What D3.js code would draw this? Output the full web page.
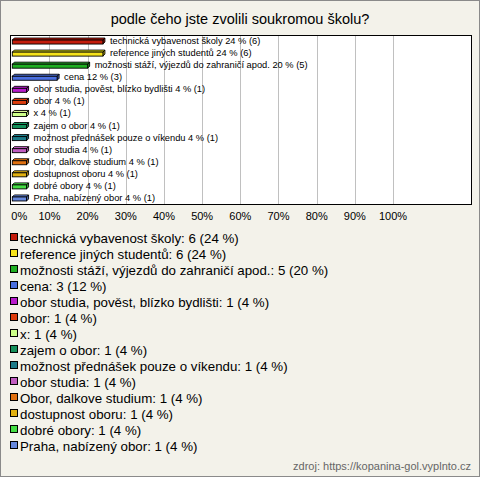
<!DOCTYPE html>
<html><head><meta charset="utf-8">
<script src="https://cdn.jsdelivr.net/npm/d3@7"></script>
<style>body{margin:0;background:#fff}svg{display:block}</style>
</head><body>
<script>
const title = "podle čeho jste zvolili soukromou školu?";
const categories = ["technická vybavenost školy","reference jiných studentů","možnosti stáží, výjezdů do zahraničí apod.","cena","obor studia, pověst, blízko bydlišti","obor","x","zajem o obor","možnost přednášek pouze o víkendu","obor studia","Obor, dalkove studium","dostupnost oboru","dobré obory","Praha, nabízený obor"];
const counts = [6,6,5,3,1,1,1,1,1,1,1,1,1,1];
const percents = [24,24,20,12,4,4,4,4,4,4,4,4,4,4];
const colors = ["#c41c0c","#f5e21a","#1fae22","#4a6fe0","#b81ccc","#dd3c0c","#ccff88","#14905a","#1c7a88","#c05cc0","#e07010","#e0b010","#44dd44","#6688dd"];
const tickValues = [0,10,20,30,40,50,60,70,80,90,100];
const source = "zdroj: https://kopanina-gol.vyplnto.cz";

const W=480,H=477;
const svg=d3.select("body").append("svg").attr("width",W).attr("height",H);
svg.append("rect").attr("x",0.5).attr("y",0.5).attr("width",W-1).attr("height",H-1).attr("fill","#f3f2ea").attr("stroke","#8a8a8a");

svg.append("text").attr("x",240).attr("y",24).attr("text-anchor","middle")
  .attr("font-family","Liberation Sans, Arial, sans-serif").attr("font-size",14.5).attr("fill","#000").text(title);

const plot={l:10,t:35,r:471,b:204};
const x=d3.scaleLinear().domain([0,100]).range([11.3,393]);
const y=d3.scaleBand().domain(d3.range(categories.length)).range([plot.t,plot.b]);

svg.append("rect").attr("x",plot.l+0.5).attr("y",plot.t+0.5).attr("width",plot.r-plot.l).attr("height",plot.b-plot.t).attr("fill","#fff");
svg.append("g").selectAll("line").data(tickValues.slice(1)).join("line")
  .attr("x1",d=>Math.round(x(d))+0.5).attr("x2",d=>Math.round(x(d))+0.5)
  .attr("y1",plot.t).attr("y2",plot.b).attr("stroke","#c0c0c0");

const g=svg.append("g");
const bh=4, dz=2;
categories.forEach((c,i)=>{
  const cy=y(i)+y.bandwidth()/2;
  const x0=x(0)+1, x1=x(percents[i]);
  const top=cy-bh/2+1;
  const col=d3.color(colors[i]);
  g.append("path").attr("d",`M${x0},${top} L${x0+dz},${top-dz} L${x1+dz},${top-dz} L${x1},${top} Z`)
    .attr("fill",col.brighter(0.3)).attr("stroke","#000").attr("stroke-width",0.9);
  g.append("path").attr("d",`M${x1},${top} L${x1+dz},${top-dz} L${x1+dz},${top+bh-dz} L${x1},${top+bh} Z`)
    .attr("fill",col.darker(0.6)).attr("stroke","#000").attr("stroke-width",0.9);
  g.append("rect").attr("x",x0).attr("y",top).attr("width",x1-x0).attr("height",bh)
    .attr("fill",colors[i]).attr("stroke","#000").attr("stroke-width",0.9);
  g.append("text").attr("x",x1+7).attr("y",cy+3).attr("font-family","Liberation Sans, Arial, sans-serif")
    .attr("font-size",9.3).attr("fill","#000").text(`${c} ${percents[i]} % (${counts[i]})`);
});

svg.append("rect").attr("x",plot.l+0.5).attr("y",plot.t+0.5).attr("width",plot.r-plot.l).attr("height",plot.b-plot.t).attr("fill","none").attr("stroke","#000");

svg.append("g").selectAll("text").data(tickValues).join("text")
  .attr("x",d=>x(d)).attr("y",220)
  .attr("text-anchor",d=>d===0?"start":"middle")
  .attr("font-family","Liberation Sans, Arial, sans-serif").attr("font-size",11).attr("fill","#000")
  .text(d=>d+"%");

const lg=svg.append("g");
categories.forEach((c,i)=>{
  const ly=238+i*16;
  lg.append("rect").attr("x",10.5).attr("y",ly-4.5).attr("width",7).attr("height",7)
    .attr("fill",colors[i]).attr("stroke","#000").attr("stroke-width",1);
  lg.append("text").attr("x",20).attr("y",ly+4.5).attr("font-family","Liberation Sans, Arial, sans-serif")
    .attr("font-size",13.3).attr("fill","#000").text(`${c}: ${counts[i]} (${percents[i]} %)`);
});

svg.append("text").attr("x",471).attr("y",470).attr("text-anchor","end")
  .attr("font-family","Liberation Sans, Arial, sans-serif").attr("font-size",11).attr("fill","#666").text(source);
</script>
</body></html>
